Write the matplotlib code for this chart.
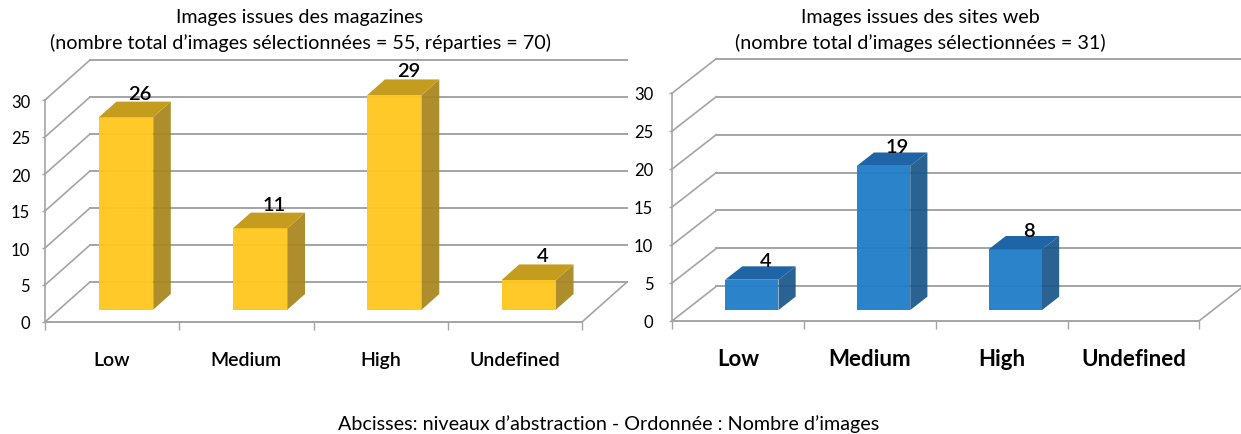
import matplotlib
matplotlib.use('Agg')
from matplotlib import pyplot as plt

matplotlib.rcParams.update({'font.family': ['Lato', 'DejaVu Sans']})

categories = ['Low', 'Medium', 'High', 'Undefined']
magazine_values = [26, 11, 29, 4]
web_values = [4, 19, 8, 0]
y_ticks = [0, 5, 10, 15, 20, 25, 30]

GRID = '#a4a4a4'
W, H = 1241, 435


def plot_panel(rect, values, colors, depth, tick_pad, x_pad, label_size, label_weight, value_shift):
    left, top0, width, height = rect
    ax = fig.add_axes([left / W, (H - top0) / H, width / W, height / H])
    ax.set_xlim(0, 4)
    ax.set_ylim(0, 30)
    for s in ax.spines.values():
        s.set_visible(False)
    ax.patch.set_alpha(0)
    dx, dy = depth

    # walls
    for v in y_ticks:
        ax.plot([0, dx], [v, v + dy], color=GRID, lw=1.2, clip_on=False, zorder=1)
        ax.plot([dx, 4 + dx], [v + dy, v + dy], color=GRID, lw=1.4, clip_on=False, zorder=1)
    ax.plot([0, 0], [0, 30], color=GRID, lw=1.2, clip_on=False, zorder=1)
    ax.plot([0, 4], [0, 0], color=GRID, lw=1.4, clip_on=False, zorder=1)
    ax.plot([4, 4 + dx], [0, dy], color=GRID, lw=1.2, clip_on=False, zorder=1)

    # bars, front face from the axes, sides pushed back by the depth
    d0, d1 = 0.31, 0.70
    bar_w = 0.405
    x0 = [i + 0.5 + dx * d0 - bar_w / 2 for i in range(4)]
    y0 = dy * d0
    ddx = dx * (d1 - d0)
    ddy = dy * (d1 - d0)
    front, side, top = colors
    for x, v in zip(x0, values):
        if v == 0:
            continue
        ax.bar(x, v, bar_w, bottom=y0, align='edge', color=front, alpha=0.95, zorder=3, clip_on=False)
        ax.fill([x + bar_w, x + bar_w + ddx, x + bar_w + ddx, x + bar_w],
                [y0, y0 + ddy, y0 + v + ddy, y0 + v], color=side, alpha=0.93, lw=0, zorder=3, clip_on=False)
        ax.fill([x, x + ddx, x + bar_w + ddx, x + bar_w],
                [y0 + v, y0 + v + ddy, y0 + v + ddy, y0 + v], color=top, lw=0, zorder=3, clip_on=False)
        ax.annotate(str(v), (x + bar_w / 2 + ddx * 0.8, y0 + v + ddy), xytext=(0, value_shift),
                    textcoords='offset points', ha='center', va='bottom', annotation_clip=False,
                    fontsize=14.5, fontweight='semibold', color='black', zorder=4)

    ax.set_xticks([0, 1, 2, 3, 4], minor=True)
    ax.set_xticks([0.5, 1.5, 2.5, 3.5])
    ax.set_xticklabels(categories, fontsize=label_size, fontweight=label_weight)
    ax.tick_params(axis='x', which='major', length=0, pad=x_pad)
    ax.tick_params(axis='x', which='minor', length=6, width=1, color=GRID)
    ax.set_yticks(y_ticks)
    ax.tick_params(axis='y', length=2.2, width=1, color=GRID, pad=tick_pad, labelsize=12)
    return ax


fig = plt.figure(figsize=(W / 100, H / 100), dpi=100)

plot_panel((45, 323, 537, 222), magazine_values, ('#FFC61E', '#A8851C', '#C59D1E'),
           (0.335, 5.4), 8.5, 21, 14, 'semibold', 0)
plot_panel((672.3, 321.7, 527, 227.7), web_values, ('#1F7DC8', '#195689', '#1F65A5'),
           (0.334, 4.52), 11.5, 20, 16, 'bold', -2)

fig.text(300 / W, 1 - 18 / H, 'Images issues des magazines', ha='center', va='center', fontsize=14.2)
fig.text(300 / W, 1 - 43 / H, '(nombre total d’images sélectionnées = 55, réparties = 70)',
         ha='center', va='center', fontsize=14.2)
fig.text(920 / W, 1 - 18 / H, 'Images issues des sites web', ha='center', va='center', fontsize=14.2)
fig.text(920 / W, 1 - 43 / H, '(nombre total d’images sélectionnées = 31)', ha='center', va='center', fontsize=14.2)
fig.text(609 / W, 1 - 424 / H, 'Abcisses: niveaux d’abstraction - Ordonnée : Nombre d’images',
         ha='center', va='center', fontsize=14.2)

plt.savefig('out.png', dpi=100)
